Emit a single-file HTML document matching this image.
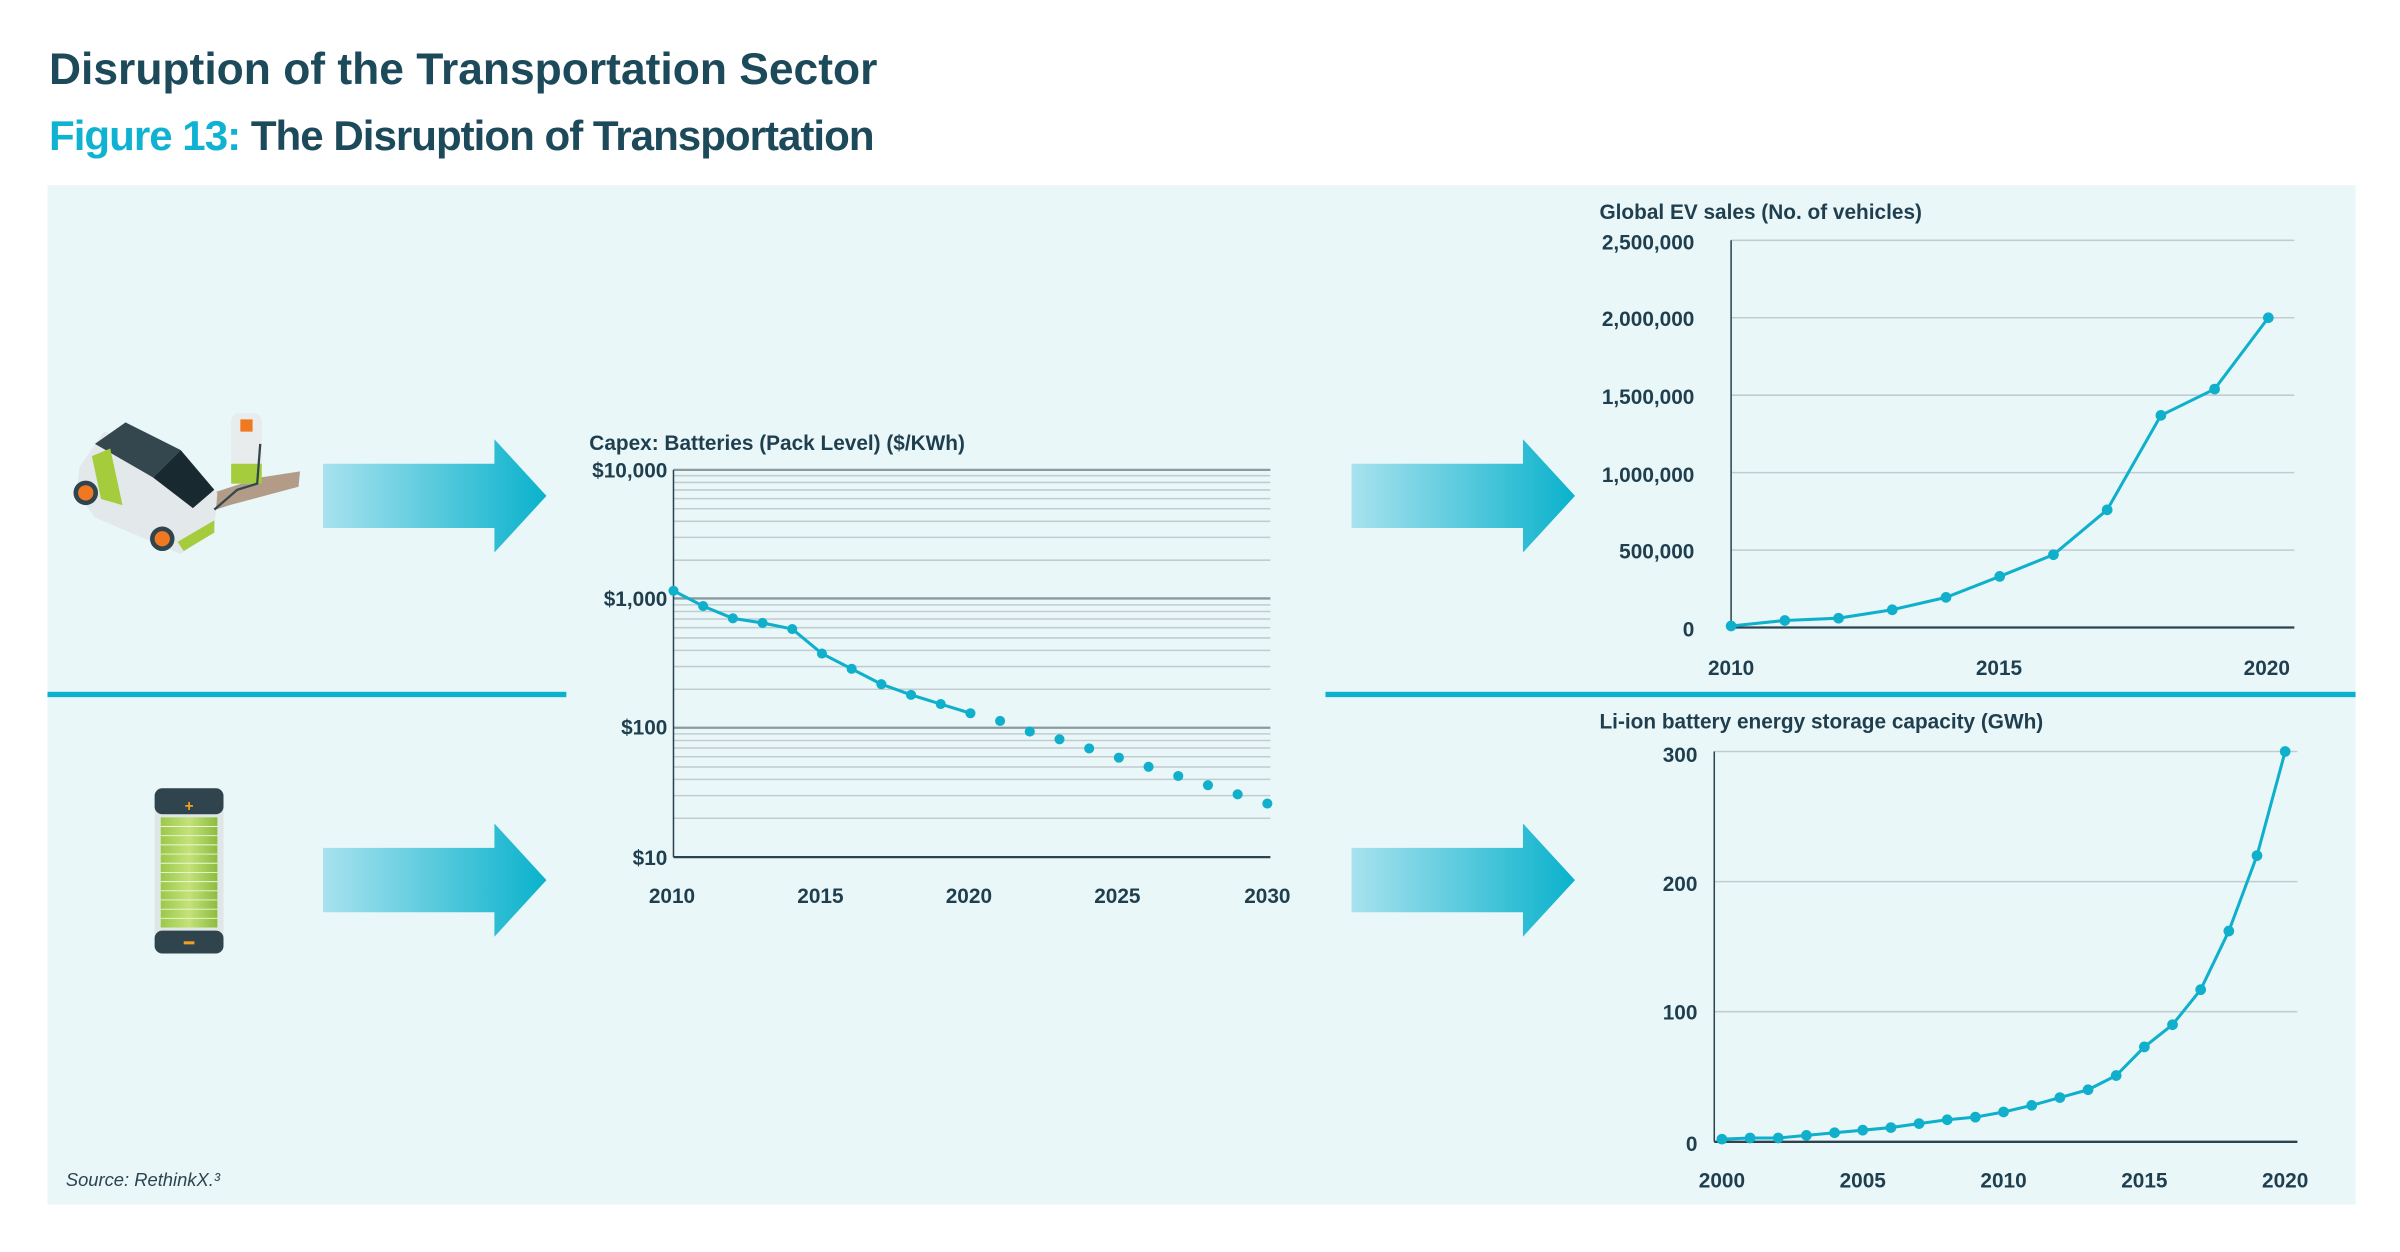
<!DOCTYPE html>
<html><head><meta charset="utf-8"><style>
html,body{margin:0;padding:0;background:#fff;width:2400px;height:1252px;overflow:hidden}
svg{display:block}
text{font-family:"Liberation Sans",Arial,sans-serif}
</style></head><body>
<svg width="2400" height="1252" viewBox="0 0 1568 818" xmlns="http://www.w3.org/2000/svg">
<defs>
<linearGradient id="ag" x1="0" x2="1" y1="0" y2="0"><stop offset="0" stop-color="#a8e2ee"/><stop offset="1" stop-color="#0ab2cc"/></linearGradient>
<linearGradient id="bg" x1="0" x2="1"><stop offset="0" stop-color="#9cc84a"/><stop offset=".5" stop-color="#c4e27a"/><stop offset="1" stop-color="#8cbc3e"/></linearGradient>
</defs>
<text x="32" y="55" font-size="29" font-weight="bold" fill="#1d4a5a">Disruption of the Transportation Sector</text>
<text x="32" y="98" font-size="27.5" font-weight="bold" fill="#1d4a5a" letter-spacing="-0.65"><tspan fill="#10b2d2">Figure 13:</tspan> The Disruption of Transportation</text>
<rect x="31" y="121" width="1508" height="666" fill="#eaf7f9"/>
<rect x="31" y="452" width="339" height="3.5" fill="#0ab2cc"/>
<rect x="866" y="452" width="673" height="3.5" fill="#0ab2cc"/>
<g fill="url(#ag)">
<path d="M211 303H323V287L357 324L323 361V345H211Z"/>
<path d="M211 554H323V538L357 575L323 612V596H211Z"/>
<path d="M883 303H995V287L1029 324L995 361V345H883Z"/>
<path d="M883 554H995V538L1029 575L995 612V596H883Z"/>
</g>
<g>
<path d="M120 340 L150 330 L195 318 L196 308 L170 312 L130 325Z" fill="#a88c74" opacity=".85"/>
<path d="M52 305 L68 282 L112 296 L142 322 L140 346 L118 362 L62 338 L50 322Z" fill="#e3e8ea"/>
<path d="M62 290 L82 276 L118 294 L100 312Z" fill="#34474f"/>
<path d="M100 312 L118 294 L140 320 L126 332Z" fill="#182a30"/>
<path d="M60 298 L72 293 L80 330 L66 326Z" fill="#a4cc3c"/>
<path d="M116 354 L140 340 L140 348 L120 360Z" fill="#a4cc3c"/>
<circle cx="56" cy="322" r="8" fill="#2f444c"/><circle cx="56" cy="322" r="5" fill="#f07820"/>
<circle cx="106" cy="352" r="8" fill="#2f444c"/><circle cx="106" cy="352" r="5" fill="#f07820"/>
<rect x="151" y="270" width="20" height="46" rx="5" fill="#e8ecec"/>
<rect x="151" y="303" width="20" height="13" fill="#a4cc3c"/>
<rect x="157" y="274" width="8" height="8" fill="#f07820"/>
<path d="M140 333 L155 320 L168 316 L170 290" stroke="#34474f" stroke-width="1.5" fill="none"/>
</g>
<g>
<rect x="101" y="515" width="45" height="108" rx="5" fill="#dfe6e6"/>
<rect x="101" y="515" width="45" height="17" rx="5" fill="#2f444c"/>
<rect x="101" y="608" width="45" height="15" rx="5" fill="#2f444c"/>
<rect x="105" y="534" width="37" height="72" fill="url(#bg)"/>
<g stroke="#eef5dc" stroke-width=".6">
<line x1="105" y1="540" x2="142" y2="540"/><line x1="105" y1="546" x2="142" y2="546"/><line x1="105" y1="552" x2="142" y2="552"/><line x1="105" y1="558" x2="142" y2="558"/><line x1="105" y1="564" x2="142" y2="564"/><line x1="105" y1="570" x2="142" y2="570"/><line x1="105" y1="576" x2="142" y2="576"/><line x1="105" y1="582" x2="142" y2="582"/><line x1="105" y1="588" x2="142" y2="588"/><line x1="105" y1="594" x2="142" y2="594"/><line x1="105" y1="600" x2="142" y2="600"/>
</g>
<text x="123.5" y="530" font-size="10" font-weight="bold" fill="#f0a020" text-anchor="middle">+</text>
<rect x="120" y="615" width="7" height="2" fill="#f0a020"/>
</g>

<g stroke="#c2cccf" stroke-width="1">
<line x1="440" x2="830" y1="534.6" y2="534.6"/><line x1="440" x2="830" y1="519.8" y2="519.8"/><line x1="440" x2="830" y1="509.2" y2="509.2"/><line x1="440" x2="830" y1="501.1" y2="501.1"/><line x1="440" x2="830" y1="494.4" y2="494.4"/><line x1="440" x2="830" y1="488.7" y2="488.7"/><line x1="440" x2="830" y1="483.8" y2="483.8"/><line x1="440" x2="830" y1="479.5" y2="479.5"/>
<line x1="440" x2="830" y1="450.3" y2="450.3"/><line x1="440" x2="830" y1="435.5" y2="435.5"/><line x1="440" x2="830" y1="424.9" y2="424.9"/><line x1="440" x2="830" y1="416.8" y2="416.8"/><line x1="440" x2="830" y1="410.1" y2="410.1"/><line x1="440" x2="830" y1="404.4" y2="404.4"/><line x1="440" x2="830" y1="399.5" y2="399.5"/><line x1="440" x2="830" y1="395.2" y2="395.2"/>
<line x1="440" x2="830" y1="366" y2="366"/><line x1="440" x2="830" y1="351.1" y2="351.1"/><line x1="440" x2="830" y1="340.6" y2="340.6"/><line x1="440" x2="830" y1="332.4" y2="332.4"/><line x1="440" x2="830" y1="325.8" y2="325.8"/><line x1="440" x2="830" y1="320.1" y2="320.1"/><line x1="440" x2="830" y1="315.2" y2="315.2"/><line x1="440" x2="830" y1="310.8" y2="310.8"/>
</g>
<g stroke="#8a9a9f" stroke-width="1.5">
<line x1="440" x2="830" y1="307" y2="307"/><line x1="440" x2="830" y1="391" y2="391"/><line x1="440" x2="830" y1="475.5" y2="475.5"/>
</g>
<line x1="440" x2="830" y1="560" y2="560" stroke="#2b4450" stroke-width="1.5"/>
<line x1="440" x2="440" y1="307" y2="560" stroke="#2b4450" stroke-width="1"/>
<g font-size="13.6" font-weight="bold" fill="#1f3f4f">
<text x="385" y="294">Capex: Batteries (Pack Level) ($/KWh)</text>
<g text-anchor="end"><text x="436" y="312">$10,000</text><text x="436" y="396">$1,000</text><text x="436" y="480">$100</text><text x="436" y="565">$10</text></g>
<g text-anchor="middle"><text x="439" y="590">2010</text><text x="536" y="590">2015</text><text x="633" y="590">2020</text><text x="730" y="590">2025</text><text x="828" y="590">2030</text></g>
</g>
<polyline fill="none" stroke="#10b0cc" stroke-width="2" points="440,386 459.4,396 478.8,404 498.2,407 517.6,411 537,427 556.4,437 575.8,447 595.2,454 614.6,460 634,466"/>
<g fill="#10b0cc">
<circle cx="440" cy="386" r="3.3"/><circle cx="459.4" cy="396" r="3.3"/><circle cx="478.8" cy="404" r="3.3"/><circle cx="498.2" cy="407" r="3.3"/><circle cx="517.6" cy="411" r="3.3"/><circle cx="537" cy="427" r="3.3"/><circle cx="556.4" cy="437" r="3.3"/><circle cx="575.8" cy="447" r="3.3"/><circle cx="595.2" cy="454" r="3.3"/><circle cx="614.6" cy="460" r="3.3"/><circle cx="634" cy="466" r="3.3"/>
<circle cx="653.4" cy="471" r="3.3"/><circle cx="672.8" cy="478" r="3.3"/><circle cx="692.2" cy="483" r="3.3"/><circle cx="711.6" cy="489" r="3.3"/><circle cx="731" cy="495" r="3.3"/><circle cx="750.4" cy="501" r="3.3"/><circle cx="769.8" cy="507" r="3.3"/><circle cx="789.2" cy="513" r="3.3"/><circle cx="808.6" cy="519" r="3.3"/><circle cx="828" cy="525" r="3.3"/>
</g>

<g stroke="#c2cccf" stroke-width="1">
<line x1="1131" x2="1499" y1="157" y2="157"/><line x1="1131" x2="1499" y1="207.6" y2="207.6"/><line x1="1131" x2="1499" y1="258.2" y2="258.2"/><line x1="1131" x2="1499" y1="308.8" y2="308.8"/><line x1="1131" x2="1499" y1="359.4" y2="359.4"/>
</g>
<line x1="1131" x2="1499" y1="410" y2="410" stroke="#2b4450" stroke-width="1.5"/>
<line x1="1131" x2="1131" y1="157" y2="410" stroke="#2b4450" stroke-width="1"/>
<g font-size="13.6" font-weight="bold" fill="#1f3f4f">
<text x="1045" y="143">Global EV sales (No. of vehicles)</text>
<g text-anchor="end"><text x="1107" y="163">2,500,000</text><text x="1107" y="213">2,000,000</text><text x="1107" y="264">1,500,000</text><text x="1107" y="315">1,000,000</text><text x="1107" y="365">500,000</text><text x="1107" y="416">0</text></g>
<g text-anchor="middle"><text x="1131" y="441">2010</text><text x="1306" y="441">2015</text><text x="1481" y="441">2020</text></g>
</g>
<polyline fill="none" stroke="#10b0cc" stroke-width="2" points="1131,409 1166.1,405.4 1201.2,403.9 1236.3,398.4 1271.4,390.3 1306.5,376.6 1341.6,362.4 1376.7,333.1 1411.8,271.4 1446.9,254.2 1482,207.6"/>
<g fill="#10b0cc">
<circle cx="1131" cy="409" r="3.5"/><circle cx="1166.1" cy="405.4" r="3.5"/><circle cx="1201.2" cy="403.9" r="3.5"/><circle cx="1236.3" cy="398.4" r="3.5"/><circle cx="1271.4" cy="390.3" r="3.5"/><circle cx="1306.5" cy="376.6" r="3.5"/><circle cx="1341.6" cy="362.4" r="3.5"/><circle cx="1376.7" cy="333.1" r="3.5"/><circle cx="1411.8" cy="271.4" r="3.5"/><circle cx="1446.9" cy="254.2" r="3.5"/><circle cx="1482" cy="207.6" r="3.5"/>
</g>

<g stroke="#c2cccf" stroke-width="1">
<line x1="1120" x2="1501" y1="491" y2="491"/><line x1="1120" x2="1501" y1="576" y2="576"/><line x1="1120" x2="1501" y1="661" y2="661"/>
</g>
<line x1="1120" x2="1501" y1="746" y2="746" stroke="#2b4450" stroke-width="1.5"/>
<line x1="1120" x2="1120" y1="491" y2="746" stroke="#2b4450" stroke-width="1"/>
<g font-size="13.6" font-weight="bold" fill="#1f3f4f">
<text x="1045" y="476">Li-ion battery energy storage capacity (GWh)</text>
<g text-anchor="end"><text x="1109" y="498">300</text><text x="1109" y="582">200</text><text x="1109" y="666">100</text><text x="1109" y="752">0</text></g>
<g text-anchor="middle"><text x="1125" y="776">2000</text><text x="1217" y="776">2005</text><text x="1309" y="776">2010</text><text x="1401" y="776">2015</text><text x="1493" y="776">2020</text></g>
</g>
<polyline fill="none" stroke="#10b0cc" stroke-width="2" points="1125,744.3 1143.4,743.5 1161.8,743.5 1180.2,741.8 1198.6,740.1 1217,738.4 1235.4,736.7 1253.8,734.1 1272.2,731.6 1290.6,729.9 1309,726.5 1327.4,722.2 1345.8,717.1 1364.2,712 1382.6,702.7 1401,684 1419.4,669.5 1437.8,646.6 1456.2,608.3 1474.6,559 1493,491"/>
<g fill="#10b0cc">
<circle cx="1125" cy="744.3" r="3.5"/><circle cx="1143.4" cy="743.5" r="3.5"/><circle cx="1161.8" cy="743.5" r="3.5"/><circle cx="1180.2" cy="741.8" r="3.5"/><circle cx="1198.6" cy="740.1" r="3.5"/><circle cx="1217" cy="738.4" r="3.5"/><circle cx="1235.4" cy="736.7" r="3.5"/><circle cx="1253.8" cy="734.1" r="3.5"/><circle cx="1272.2" cy="731.6" r="3.5"/><circle cx="1290.6" cy="729.9" r="3.5"/><circle cx="1309" cy="726.5" r="3.5"/><circle cx="1327.4" cy="722.2" r="3.5"/><circle cx="1345.8" cy="717.1" r="3.5"/><circle cx="1364.2" cy="712" r="3.5"/><circle cx="1382.6" cy="702.7" r="3.5"/><circle cx="1401" cy="684" r="3.5"/><circle cx="1419.4" cy="669.5" r="3.5"/><circle cx="1437.8" cy="646.6" r="3.5"/><circle cx="1456.2" cy="608.3" r="3.5"/><circle cx="1474.6" cy="559" r="3.5"/><circle cx="1493" cy="491" r="3.5"/>
</g>

<text x="43" y="775" font-size="12" font-style="italic" fill="#2b4450">Source: RethinkX.³</text>
</svg>
</body></html>
